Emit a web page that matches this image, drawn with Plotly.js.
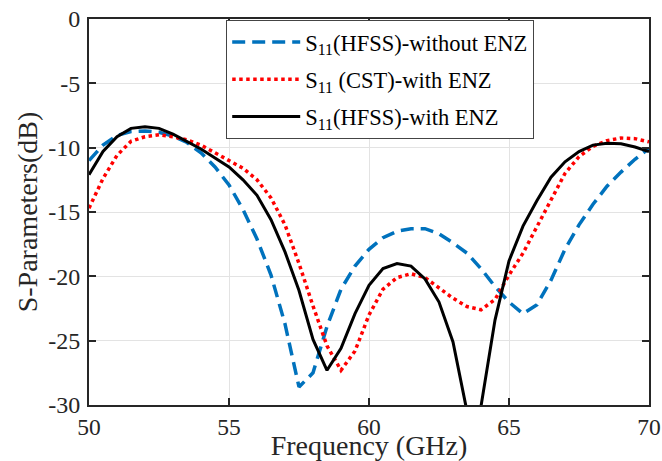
<!DOCTYPE html>
<html>
<head>
<meta charset="utf-8">
<script src="https://cdn.plot.ly/plotly-3.0.1.min.js"></script>
<style>html,body{margin:0;padding:0;background:#fff;}#chart{width:662px;height:461px;}</style>
</head>
<body>
<div id="chart"></div>
<script>
const freq = [50,50.5,51,51.5,52,52.5,53,53.5,54,54.5,55,55.5,56,56.5,57,57.5,58,58.5,59,59.5,60,60.5,61,61.5,62,62.5,63,63.5,64,64.5,65,65.5,66,66.5,67,67.5,68,68.5,69,69.5,70];
const s11HfssNoEnz = [-11.0,-9.8,-9.05,-8.75,-8.7,-8.8,-9.1,-9.6,-10.4,-11.5,-12.9,-14.8,-17.1,-19.9,-23.7,-28.6,-27.5,-23.9,-21.0,-19.2,-17.9,-17.0,-16.5,-16.3,-16.3,-16.7,-17.4,-18.2,-19.4,-20.8,-22.0,-22.9,-22.2,-20.3,-17.9,-16.0,-14.4,-13.0,-11.9,-10.9,-10.05];
const s11CstEnz = [-14.7,-12.4,-10.6,-9.5,-9.15,-9.0,-9.15,-9.4,-9.8,-10.4,-11.0,-11.6,-12.5,-13.9,-16.0,-19.0,-22.3,-25.4,-27.3,-25.8,-23.0,-21.0,-20.1,-19.8,-20.1,-20.9,-21.7,-22.35,-22.6,-21.8,-19.9,-18.2,-16.1,-14.0,-12.0,-10.7,-9.9,-9.45,-9.25,-9.3,-9.55];
const s11HfssEnz = [-12.1,-10.3,-9.15,-8.5,-8.37,-8.5,-8.95,-9.5,-10.1,-10.8,-11.5,-12.5,-13.7,-15.6,-18.1,-21.1,-24.9,-27.3,-25.6,-22.9,-20.7,-19.4,-19.0,-19.2,-20.2,-22.0,-25.1,-30.5,-30.1,-23.4,-18.8,-16.1,-14.1,-12.3,-11.1,-10.3,-9.8,-9.65,-9.7,-9.95,-10.3];
const xTicks = [50,55,60,65,70];
const yTicks = [-30,-25,-20,-15,-10,-5,0];
const names = ['S<sub>11</sub>(HFSS)-without ENZ','S<sub>11</sub> (CST)-with ENZ','S<sub>11</sub>(HFSS)-with ENZ'];

const serif = 'Liberation Serif';
const traces = [
  {x: freq, y: s11HfssNoEnz, name: names[0], legendgroup: 'a', mode: 'lines', line: {color: '#0072BD', width: 3.5, dash: '13px,7px'}},
  {x: freq, y: s11CstEnz, name: names[1], legendgroup: 'b', mode: 'lines', line: {color: '#FF0000', width: 3.5, dash: 'dot'}},
  {x: freq, y: s11HfssEnz, name: names[2], legendgroup: 'c', mode: 'lines', line: {color: '#000000', width: 3}}
];
const axisCommon = {
  showline: true, linecolor: '#262626', linewidth: 2, mirror: 'ticks',
  ticks: 'inside', ticklen: 7, tickwidth: 2, tickcolor: '#262626',
  showgrid: true, gridcolor: '#e3e3e3', gridwidth: 1, zeroline: false,
  tickfont: {family: serif, size: 24, color: '#262626'}
};
const layout = {
  width: 662, height: 461,
  font: {family: serif, size: 24, color: '#262626'},
  margin: {l: 89, r: 13, t: 19, b: 56},
  paper_bgcolor: '#fff', plot_bgcolor: '#fff',
  showlegend: true,
  legend: {x: 0.245, y: 0.998, xanchor: 'left', yanchor: 'top', bgcolor: '#fff',
    bordercolor: '#444', borderwidth: 1, itemwidth: 68, tracegroupgap: 5,
    font: {family: serif, size: 22.5, color: '#000'}},
  xaxis: Object.assign({}, axisCommon, {range: [50, 70], tickvals: xTicks, ticktext: xTicks.map(String),
    ticklabelstandoff: 0, tickfont: {family: serif, size: 23.5, color: '#262626'},
    title: {text: 'Frequency (GHz)', font: {family: serif, size: 28, color: '#262626'}, standoff: 6}}),
  yaxis: Object.assign({}, axisCommon, {range: [-30, 0], tickvals: yTicks, ticktext: yTicks.map(String),
    ticklabelstandoff: 2,
    title: {text: 'S-Parameters(dB)', font: {family: serif, size: 28, color: '#262626'}, standoff: 2}})
};
Plotly.newPlot('chart', traces, layout, {staticPlot: true, displayModeBar: false});
</script>
</body>
</html>
